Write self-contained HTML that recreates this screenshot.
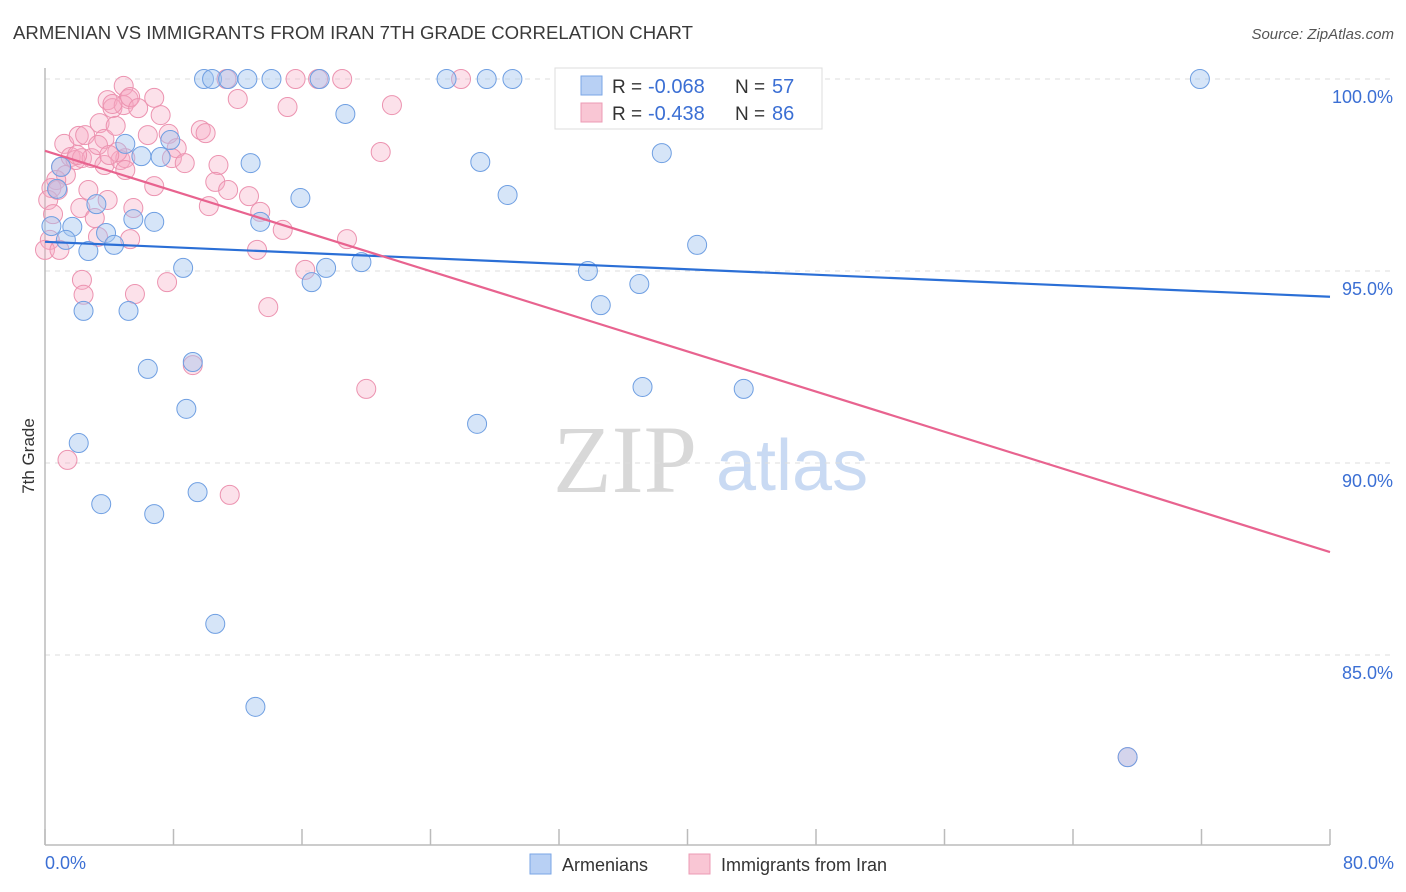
<!DOCTYPE html>
<html><head><meta charset="utf-8"><style>
body{margin:0;background:#fff;font-family:"Liberation Sans",sans-serif;}
</style></head><body>
<svg id="chart" width="1406" height="892" xmlns="http://www.w3.org/2000/svg" style="display:block">
<text x="13" y="39" font-size="18" fill="#3a3a3a" textLength="680" lengthAdjust="spacingAndGlyphs">ARMENIAN VS IMMIGRANTS FROM IRAN 7TH GRADE CORRELATION CHART</text>
<text x="1394" y="39" font-size="15" font-style="italic" fill="#555" text-anchor="end">Source: ZipAtlas.com</text>
<text x="553" y="492" font-size="96" font-family="Liberation Serif,serif" fill="#d8d8d8">ZIP</text>
<text x="716" y="490" font-size="72" fill="#c9daf3">atlas</text>
<g id="grid"></g>
<line x1="45" y1="68" x2="45" y2="845" stroke="#bbb" stroke-width="1.5"/>
<line x1="45" y1="845" x2="1330" y2="845" stroke="#bbb" stroke-width="1.5"/>
<text transform="translate(34,456) rotate(-90)" font-size="17" fill="#333" text-anchor="middle">7th Grade</text>
<text x="45" y="869" font-size="18" fill="#3b6fd4">0.0%</text>
<text x="1394" y="869" font-size="18" fill="#3b6fd4" text-anchor="end">80.0%</text>
<g id="points"></g>
<g id="trends"></g>
<g>
<rect x="555" y="68" width="267" height="61" fill="#fff" stroke="#ddd"/>
<rect x="581" y="76" width="21" height="19" fill="#b8d0f4" stroke="#7aa6e6"/>
<rect x="581" y="103" width="21" height="19" fill="#f9c6d4" stroke="#ec9bb4"/>
<text x="612" y="93" font-size="19" fill="#333">R =</text>
<text x="648" y="93" font-size="20" fill="#3b6fd4">-0.068</text>
<text x="735" y="93" font-size="19" fill="#333">N =</text>
<text x="772" y="93" font-size="20" fill="#3b6fd4">57</text>
<text x="612" y="120" font-size="19" fill="#333">R =</text>
<text x="648" y="120" font-size="20" fill="#3b6fd4">-0.438</text>
<text x="735" y="120" font-size="19" fill="#333">N =</text>
<text x="772" y="120" font-size="20" fill="#3b6fd4">86</text>
</g>
<g>
<rect x="530" y="854" width="21" height="20" fill="#b8d0f4" stroke="#7aa6e6"/>
<text x="562" y="871" font-size="18" fill="#333">Armenians</text></g>
<g>
<rect x="689" y="854" width="21" height="20" fill="#f9c6d4" stroke="#ec9bb4"/>
<text x="721" y="871" font-size="18" fill="#333">Immigrants from Iran</text></g>
</svg>
<script>
const yTicks=[100,95,90,85];
const yTickLabels=["100.0%","95.0%","90.0%","85.0%"];
const xTicks=[0,8,16,24,32,40,48,56,64,72,80];
const blueX=[9.9,10.4,11.4,12.6,14.1,17.1,25.0,27.5,29.1,32.7,71.9,18.7,7.8,5.0,6.0,7.2,12.8,1.0,38.4,27.1,0.75,3.2,15.9,28.8,1.7,5.5,6.8,13.4,3.8,0.4,1.3,4.3,2.7,40.6,8.6,17.5,19.7,33.8,16.6,37.0,2.4,5.2,34.6,6.4,9.2,37.2,43.5,8.8,26.9,2.1,3.5,6.8,9.5,10.6,13.1,67.4];
const blueY=[100,100,100,100,100,100,100,100,100,100,100,99.09,98.41,98.31,97.99,97.97,97.81,97.71,98.07,97.84,97.14,96.74,96.90,96.98,96.15,96.35,96.28,96.28,95.99,96.17,95.81,95.68,95.52,95.68,95.08,95.08,95.23,95.0,94.71,94.66,93.96,93.96,94.11,92.45,92.63,91.98,91.93,91.41,91.02,90.52,88.93,88.67,89.24,85.81,83.65,82.34];
const pinkX=[1.0,1.2,1.6,1.9,2.1,2.5,2.3,2.9,3.4,3.7,3.3,3.9,4.2,4.4,4.7,5.0,4.9,5.2,4.9,5.3,5.8,4.5,3.7,4.0,1.3,0.7,0.4,0.2,0.8,0.5,0.3,0.0,0.9,2.7,2.2,3.1,3.3,2.3,2.4,5.3,5.5,3.9,5.0,5.6,6.4,6.8,7.2,7.7,8.2,7.9,8.7,6.8,9.7,10.0,10.8,10.6,11.4,12.7,13.4,14.8,13.2,10.2,7.6,12.0,15.1,13.9,16.2,18.8,20.0,1.4,11.5,9.2,15.6,17.0,18.5,25.9,11.3,21.6,20.9,4.2,2.0,67.4];
const pinkY=[97.71,98.31,97.97,97.89,98.52,98.54,97.94,97.94,98.85,98.44,98.28,99.45,99.24,98.78,97.89,97.94,99.82,99.48,99.32,99.53,99.24,98.10,97.76,98.02,97.50,97.37,97.16,96.85,97.11,96.48,95.81,95.55,95.55,97.11,96.64,96.38,95.89,94.77,94.38,95.83,96.64,96.85,97.63,94.40,98.54,99.51,99.06,98.57,98.20,97.94,97.81,97.21,98.67,98.59,97.76,97.32,97.11,96.95,96.54,96.07,95.55,96.69,94.71,99.48,99.27,94.06,95.03,95.83,91.93,90.08,89.17,92.55,100,100,100,100,100,99.32,98.10,99.35,98.02,82.34];
const blueTrend=[95.76,94.33];
const pinkTrend=[98.13,87.68];
const NS="http://www.w3.org/2000/svg";
const X=v=>45+v/80*1285;
const Y=v=>79+(100-v)*38.4;
function mk(tag,attrs,parent){const e=document.createElementNS(NS,tag);for(const k in attrs)e.setAttribute(k,attrs[k]);parent.appendChild(e);return e;}
const grid=document.getElementById('grid');
yTicks.forEach((t,i)=>{
 const l=mk('line',{x1:45,x2:1394,y1:Y(t),y2:Y(t),stroke:'#ddd','stroke-dasharray':'5,5'},grid);
 
 
 const tx=mk('text',{x:1393,y:Y(t)+24,'font-size':18,fill:'#3b6fd4','text-anchor':'end'},grid);
 tx.textContent=yTickLabels[i];
 
 
});
xTicks.forEach(t=>{
 const l=mk('line',{x1:X(t),x2:X(t),y1:829,y2:845,stroke:'#bbb','stroke-width':1.5},grid);
 
 
});
const pts=document.getElementById('points');
pinkX.forEach((x,i)=>{
 const c=mk('circle',{cx:X(x),cy:Y(pinkY[i]),r:9.5,fill:'rgba(246,170,195,0.35)',stroke:'#ec93b0','stroke-width':1},pts);
 
 
});
blueX.forEach((x,i)=>{
 const c=mk('circle',{cx:X(x),cy:Y(blueY[i]),r:9.5,fill:'rgba(165,198,240,0.45)',stroke:'#6f9fe2','stroke-width':1},pts);
 
 
});
const tr=document.getElementById('trends');
const bl=mk('line',{x1:X(0),y1:Y(blueTrend[0]),x2:X(80),y2:Y(blueTrend[1]),stroke:'#2b6fd6','stroke-width':2.2},tr);


const pl=mk('line',{x1:X(0),y1:Y(pinkTrend[0]),x2:X(80),y2:Y(pinkTrend[1]),stroke:'#e8638f','stroke-width':2.2},tr);


</script>
</body></html>
